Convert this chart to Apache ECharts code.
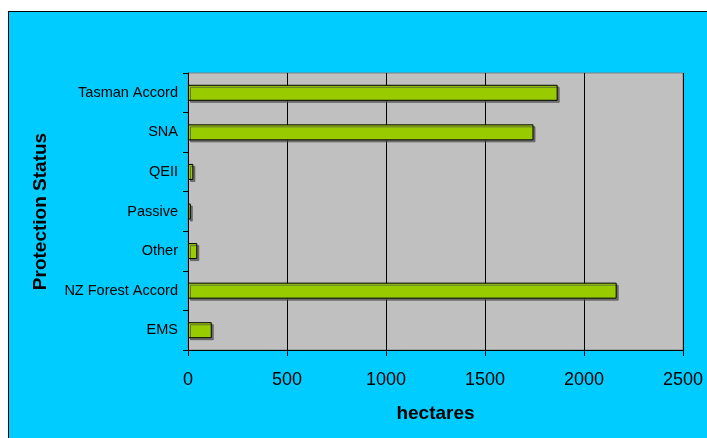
<!DOCTYPE html>
<html>
<head>
<meta charset="utf-8">
<script src="https://cdn.jsdelivr.net/npm/echarts@6/dist/echarts.min.js"></script>
<style>
  html, body { margin: 0; padding: 0; background: #ffffff; }
  #wrap { position: relative; width: 707px; height: 438px; overflow: hidden; }
  #bg { position: absolute; left: 8px; top: 11px; width: 720px; height: 450px; background: #00CCFF; border: 1px solid #000; box-sizing: border-box; }
  #chart { position: absolute; left: 0; top: 0; width: 707px; height: 438px; }
</style>
</head>
<body>
<div id="wrap"><div id="bg"></div><div id="chart"></div></div>
<script>
const categories = ['Tasman Accord', 'SNA', 'QEII', 'Passive', 'Other', 'NZ Forest Accord', 'EMS'];
const hectares = [1867, 1745, 27, 14, 47, 2165, 120];
const xTicks = { min: 0, max: 2500, interval: 500 };

const chart = echarts.init(document.getElementById('chart'), null, { renderer: 'canvas' });
chart.setOption({
  backgroundColor: 'transparent',
  animation: false,
  grid: {
    left: 188, top: 73, right: 24, bottom: 88,
    show: true, backgroundColor: '#C0C0C0', borderColor: '#808080', borderWidth: 1
  },
  xAxis: {
    type: 'value',
    min: xTicks.min, max: xTicks.max, interval: xTicks.interval,
    name: 'hectares',
    nameLocation: 'middle',
    nameGap: 54,
    nameTextStyle: { fontFamily: 'Liberation Sans, Arial, sans-serif', fontSize: 19, fontWeight: 'bold', color: '#000' },
    axisLine: { show: true, lineStyle: { color: '#000', width: 1 } },
    axisTick: { show: true, length: 6, lineStyle: { color: '#000' } },
    axisLabel: { margin: 21, fontFamily: 'Liberation Sans, Arial, sans-serif', fontSize: 18, color: '#000',
      formatter: function (v) { return String(v); } },
    splitLine: { show: true, lineStyle: { color: '#000', width: 1 } }
  },
  yAxis: {
    type: 'category',
    data: categories,
    inverse: true,
    name: 'Protection Status',
    nameLocation: 'middle',
    nameGap: 138,
    nameTextStyle: { fontFamily: 'Liberation Sans, Arial, sans-serif', fontSize: 19, fontWeight: 'bold', color: '#000' },
    axisLine: { show: true, lineStyle: { color: '#000', width: 1 } },
    axisTick: { show: true, length: 5, lineStyle: { color: '#000' } },
    axisLabel: { margin: 10, fontFamily: 'Liberation Sans, Arial, sans-serif', fontSize: 14.5, color: '#000' },
    splitLine: { show: false }
  },
  series: [{
    type: 'bar',
    data: hectares,
    barWidth: 16,
    itemStyle: {
      color: '#99CC00',
      borderColor: '#000',
      borderWidth: 1,
      shadowColor: 'rgba(80,80,80,0.7)',
      shadowBlur: 0,
      shadowOffsetX: 2,
      shadowOffsetY: 2
    }
  }]
});
</script>
</body>
</html>
